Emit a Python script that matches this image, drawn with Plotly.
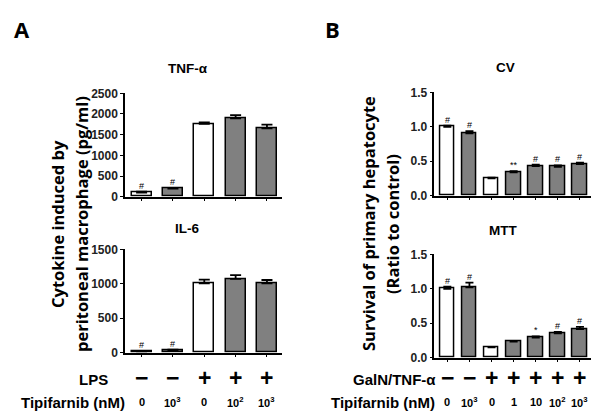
import plotly.graph_objects as go

W, H = 601, 416

# ---- data ----
a_cats = [0, 1, 2, 3, 4]
b_cats = [0, 1, 2, 3, 4, 5, 6]
tnf = [100, 195, 1760, 1895, 1655]
tnf_err = [20, 15, 35, 75, 90]
tnf_marks = ['#', '#', '', '', '']
il6 = [20, 35, 1005, 1070, 1005]
il6_err = [5, 8, 55, 55, 50]
il6_marks = ['#', '#', '', '', '']
cv = [1.0, 0.905, 0.252, 0.34, 0.43, 0.42, 0.46]
cv_err = [0.015, 0.03, 0.01, 0.015, 0.02, 0.02, 0.02]
cv_marks = ['#', '#', '', '**', '#', '#', '#']
mtt = [1.0, 1.02, 0.15, 0.232, 0.29, 0.354, 0.416]
mtt_err = [0.03, 0.07, 0.005, 0.005, 0.02, 0.02, 0.03]
mtt_marks = ['#', '#', '', '', '*', '#', '#']
a_fill = ['white', 'gray', 'white', 'gray', 'gray']
b_fill = ['white', 'gray', 'white', 'gray', 'gray', 'gray', 'gray']
a_signs = ['−', '−', '+', '+', '+']
b_signs = ['−', '−', '+', '+', '+', '+', '+']
a_dose = ['0', '10<sup>3</sup>', '0', '10<sup>2</sup>', '10<sup>3</sup>']
b_dose = ['0', '10<sup>3</sup>', '0', '1', '10', '10<sup>2</sup>', '10<sup>3</sup>']

GRAY = '#808080'
AX = 'Arial, Liberation Sans, sans-serif'


def fx(px):
    return px / W


def fy(py):
    return 1 - py / H


fig = go.Figure()

panels = [
    ('x', 'y', a_cats, tnf, tnf_err, tnf_marks, a_fill, 0.64, 5.5),
    ('x2', 'y2', a_cats, il6, il6_err, il6_marks, a_fill, 0.64, 5.5),
    ('x3', 'y3', b_cats, cv, cv_err, cv_marks, b_fill, 0.65, 4),
    ('x4', 'y4', b_cats, mtt, mtt_err, mtt_marks, b_fill, 0.65, 4),
]

annotations = []
for xa, ya, cats, vals, errs, marks, fills, bw, cw in panels:
    fig.add_trace(go.Bar(
        x=cats, y=vals, xaxis=xa, yaxis=ya, width=bw,
        marker=dict(color=[GRAY if c == 'gray' else 'white' for c in fills],
                    line=dict(color='black', width=1.5)),
        error_y=dict(type='data', array=errs, arrayminus=[0] * len(errs),
                     symmetric=False, color='black', thickness=1.8, width=cw),
        showlegend=False, hoverinfo='skip'))
    for c, v, e, m in zip(cats, vals, errs, marks):
        if m:
            annotations.append(dict(
                x=c, y=v + e, xref=xa, yref=ya, text=m, showarrow=False,
                xanchor='center', yanchor='bottom', yshift=-1,
                font=dict(family=AX, size=9, color='black')))

# axes
ydom = {
    'yaxis': ([0, 2500], [0, 500, 1000, 1500, 2000, 2500], None, (196.7, 93.3)),
    'yaxis2': ([0, 1500], [0, 500, 1000, 1500], None, (352.7, 249.3)),
    'yaxis3': ([0, 1.5], [0, 0.5, 1.0, 1.5], '.1f', (195.7, 92.3)),
    'yaxis4': ([0, 1.5], [0, 0.5, 1.0, 1.5], '.1f', (357.7, 254.3)),
}
xinfo = {
    'xaxis': ('y', [-0.53, 4.48], a_cats, (125, 282)),
    'xaxis2': ('y2', [-0.53, 4.48], a_cats, (125, 282)),
    'xaxis3': ('y3', [-0.59, 6.5], b_cats, (434.3, 591)),
    'xaxis4': ('y4', [-0.59, 6.5], b_cats, (434.3, 591)),
}
lay = {}
for k, (anchor, rng, tv, (x0, x1)) in xinfo.items():
    lay[k] = dict(anchor=anchor, range=rng, domain=[fx(x0), fx(x1)],
                  tickvals=tv, ticktext=[''] * len(tv), ticks='outside',
                  ticklen=3, tickwidth=1.2, tickcolor='black',
                  showline=True, linecolor='black', linewidth=1.5,
                  showgrid=False, zeroline=False, fixedrange=True,
                  automargin=False)
for i, (k, (rng, tv, fmt, (y0, y1))) in enumerate(ydom.items()):
    xa = ['x', 'x2', 'x3', 'x4'][i]
    d = dict(anchor=xa, range=rng, domain=[fy(y0), fy(y1)], tickvals=tv,
             ticks='outside', ticklen=3, tickwidth=1.2, tickcolor='black',
             showline=True, linecolor='black', linewidth=1.5,
             showgrid=False, zeroline=False, fixedrange=True,
             automargin=False,
             tickfont=dict(family=AX, size=12, color='#222', weight='bold'))
    if fmt:
        d['tickformat'] = fmt
    lay[k] = d


def pa(txt, x, y, size, family=AX, xanchor='center', angle=0):
    annotations.append(dict(x=fx(x), y=fy(y), xref='paper', yref='paper', text='<b>%s</b>' % txt,
                            xanchor=xanchor, yanchor='middle', textangle=angle, showarrow=False,
                            font=dict(family=family, size=size, color='black')))


# panel letters
pa('A', 22, 29, 22, 'Open Sans, Arial')
pa('B', 333, 29, 22, 'Open Sans, Arial')

# subplot titles
for txt, x, y in [('TNF-α', 188, 69), ('IL-6', 187, 228), ('CV', 505, 68), ('MTT', 503, 230)]:
    pa(txt, x, y, 13.5)

# y titles
YT = 'Open Sans, Noto Sans, sans-serif'
for txt, x in [('Cytokine induced by', 57), ('peritoneal macrophage (pg/ml)', 81),
               ('Survival of primary hepatocyte', 368), ('(Ratio to control)', 392)]:
    pa(txt, x, 224, 16.5, YT, angle=-90)

# row labels
pa('LPS', 93, 379, 15)
pa('Tipifarnib (nM)', 127, 402, 15, xanchor='right')
pa('GalN/TNF-α', 438, 379, 15, xanchor='right')
pa('Tipifarnib (nM)', 437, 402, 15, xanchor='right')

for xa, cats, signs, doses in [('x2', a_cats, a_signs, a_dose), ('x4', b_cats, b_signs, b_dose)]:
    for c, s, d in zip(cats, signs, doses):
        annotations.append(dict(x=c, y=fy(378), xref=xa, yref='paper', text='<b>%s</b>' % s,
                                xanchor='center', yanchor='middle',
                                showarrow=False, font=dict(family=AX, size=23, color='black')))
        annotations.append(dict(x=c, y=fy(402), xref=xa, yref='paper', text='<b>%s</b>' % d,
                                xanchor='center', yanchor='middle',
                                showarrow=False, font=dict(family=AX, size=11, color='black')))

fig.update_layout(
    width=W, height=H, margin=dict(l=0, r=0, t=0, b=0),
    paper_bgcolor='white', plot_bgcolor='white', bargap=0,
    annotations=annotations, **lay)

fig.write_html('out.html', config={'displayModeBar': False},
               post_script="document.body.style.margin='0';")
